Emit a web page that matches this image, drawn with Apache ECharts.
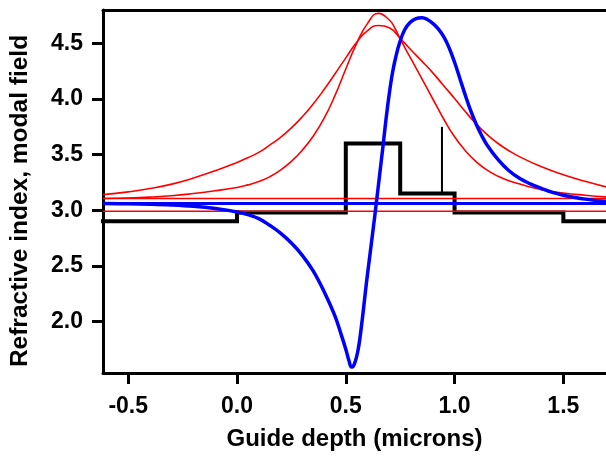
<!DOCTYPE html>
<html>
<head>
<meta charset="utf-8">
<script src="https://cdn.jsdelivr.net/npm/echarts@6/dist/echarts.min.js"></script>
<style>
html,body{margin:0;padding:0;background:#fff;}
#chart{width:606px;height:456px;}
</style>
</head>
<body>
<div id="chart"></div>
<script>
// ---- data ----
var xTicks = [-0.5, 0.0, 0.5, 1.0, 1.5];
var yTicks = [2.0, 2.5, 3.0, 3.5, 4.0, 4.5];
var xRange = [-0.616, 1.696];
var yRange = [1.537, 4.80];

// refractive index profile (step starts)
var profileX = [-0.616, 0.0, 0.5, 0.75, 1.0, 1.5, 1.696];
var profileN = [2.90, 2.98, 3.60, 3.15, 2.98, 2.90, 2.90];

// thin marker
var markerX = [0.942, 0.942];
var markerY = [3.15, 3.75];

// horizontal levels
var redLevels = [3.105, 2.99];
var blueLevel = 3.06;

// broad red curve
var broadX = [-0.616, -0.5, -0.4, -0.3, -0.2, -0.1, 0.0, 0.05, 0.1, 0.15, 0.2, 0.25, 0.3, 0.35, 0.4, 0.45, 0.5, 0.55, 0.6, 0.65, 0.70, 0.75, 0.80, 0.85, 0.90, 0.95, 1.00, 1.05, 1.10, 1.15, 1.20, 1.25, 1.30, 1.40, 1.50, 1.60, 1.696];
var broadY = [3.14, 3.165, 3.195, 3.235, 3.29, 3.355, 3.43, 3.472, 3.52, 3.585, 3.655, 3.74, 3.84, 3.955, 4.085, 4.225, 4.37, 4.51, 4.615, 4.66, 4.64, 4.545, 4.44, 4.34, 4.235, 4.12, 4.005, 3.885, 3.775, 3.68, 3.60, 3.535, 3.48, 3.39, 3.32, 3.26, 3.21];

// narrow red curve
var narrowX = [-0.616, -0.5, -0.4, -0.3, -0.2, -0.1, 0.0, 0.05, 0.1, 0.15, 0.2, 0.25, 0.3, 0.35, 0.4, 0.45, 0.5, 0.55, 0.6, 0.65, 0.70, 0.725, 0.75, 0.80, 0.85, 0.90, 0.95, 1.00, 1.05, 1.10, 1.15, 1.20, 1.25, 1.30, 1.40, 1.50, 1.60, 1.696];
var narrowY = [3.105, 3.11, 3.118, 3.13, 3.15, 3.175, 3.205, 3.228, 3.258, 3.30, 3.36, 3.44, 3.54, 3.665, 3.825, 4.03, 4.27, 4.50, 4.68, 4.77, 4.71, 4.64, 4.54, 4.36, 4.18, 4.00, 3.82, 3.66, 3.535, 3.435, 3.36, 3.305, 3.265, 3.235, 3.185, 3.155, 3.135, 3.12];

// blue modal field curve
var fieldX = [-0.616, -0.5, -0.4, -0.3, -0.2, -0.1, 0.0, 0.05, 0.1, 0.15, 0.2, 0.25, 0.3, 0.35, 0.4, 0.45, 0.48, 0.5, 0.515, 0.526, 0.535, 0.545, 0.555, 0.564, 0.58, 0.595, 0.61, 0.625, 0.64, 0.655, 0.67, 0.685, 0.70, 0.715, 0.73, 0.748, 0.77, 0.794, 0.82, 0.85, 0.875, 0.9, 0.925, 0.95, 0.975, 1.0, 1.025, 1.05, 1.075, 1.1, 1.125, 1.15, 1.2, 1.25, 1.3, 1.35, 1.4, 1.45, 1.5, 1.6, 1.696];
var fieldY = [3.06, 3.058, 3.054, 3.047, 3.035, 3.015, 2.985, 2.96, 2.925, 2.865, 2.795, 2.705, 2.595, 2.455, 2.27, 2.05, 1.875, 1.75, 1.645, 1.59, 1.60, 1.65, 1.73, 1.835, 2.09, 2.35, 2.585, 2.82, 3.06, 3.31, 3.56, 3.82, 4.05, 4.24, 4.38, 4.51, 4.62, 4.685, 4.72, 4.73, 4.715, 4.68, 4.63, 4.56, 4.46, 4.33, 4.18, 4.03, 3.89, 3.77, 3.67, 3.585, 3.455, 3.355, 3.285, 3.235, 3.195, 3.16, 3.135, 3.10, 3.08];

function zip(xs, ys){ return xs.map(function(x,i){ return [x, ys[i]]; }); }
function level(v){ return [[xRange[0], v],[xRange[1], v]]; }

var FONT = "'Liberation Sans', Arial, Helvetica, sans-serif";
var chart = echarts.init(document.getElementById('chart'), null, {renderer:'canvas'});
var lineBase = {type:'line', showSymbol:false, symbol:'none', animation:false, silent:true};

chart.setOption({
  animation:false,
  backgroundColor:'#fff',
  grid:{left:103, top:10, right:0, bottom:83},
  xAxis:[{
    type:'value', min:xRange[0], max:xRange[1], position:'bottom',
    splitLine:{show:false},
    axisLine:{show:true, onZero:false, lineStyle:{color:'#000', width:3}},
    axisTick:{show:true, inside:false, length:11, customValues:xTicks, lineStyle:{color:'#000', width:3}},
    axisLabel:{show:true, margin:22, customValues:xTicks, color:'#000', fontFamily:FONT, fontWeight:'bold', fontSize:23,
      formatter:function(v){ return v.toFixed(1); }},
    name:'Guide depth (microns)', nameLocation:'middle', nameGap:54,
    nameTextStyle:{color:'#000', fontFamily:FONT, fontWeight:'bold', fontSize:24}
  },{
    type:'value', min:xRange[0], max:xRange[1], position:'top',
    splitLine:{show:false},
    axisLine:{show:true, onZero:false, lineStyle:{color:'#000', width:3}},
    axisTick:{show:false}, axisLabel:{show:false}
  }],
  yAxis:{
    type:'value', min:yRange[0], max:yRange[1],
    splitLine:{show:false},
    axisLine:{show:true, onZero:false, lineStyle:{color:'#000', width:3}},
    axisTick:{show:true, inside:false, length:11, customValues:yTicks, lineStyle:{color:'#000', width:3}},
    axisLabel:{show:true, margin:20, customValues:yTicks, color:'#000', fontFamily:FONT, fontWeight:'bold', fontSize:23,
      formatter:function(v){ return v.toFixed(1); }},
    name:'Refractive index, modal field', nameLocation:'middle', nameGap:70, nameRotate:90,
    nameTextStyle:{color:'#000', fontFamily:FONT, fontWeight:'bold', fontSize:24.5, padding:[0,19,0,0]}
  },
  series:[
    Object.assign({}, lineBase, {name:'profile', step:'end', data:zip(profileX, profileN), z:2,
      lineStyle:{color:'#000', width:4, join:'miter', cap:'square'}}),
    Object.assign({}, lineBase, {name:'marker', data:zip(markerX, markerY), z:2,
      lineStyle:{color:'#000', width:2}}),
    Object.assign({}, lineBase, {name:'red level 1', data:level(redLevels[0]), z:3,
      lineStyle:{color:'#ff0000', width:1.5}}),
    Object.assign({}, lineBase, {name:'red level 2', data:level(redLevels[1]), z:3,
      lineStyle:{color:'#ff0000', width:1.5}}),
    Object.assign({}, lineBase, {name:'broad', data:zip(broadX, broadY), smooth:0.5, z:3,
      lineStyle:{color:'#ff0000', width:1.6}}),
    Object.assign({}, lineBase, {name:'narrow', data:zip(narrowX, narrowY), smooth:0.5, z:3,
      lineStyle:{color:'#ff0000', width:1.6}}),
    Object.assign({}, lineBase, {name:'blue level', data:level(blueLevel), z:4,
      lineStyle:{color:'#0000ff', width:3}}),
    Object.assign({}, lineBase, {name:'field', data:zip(fieldX, fieldY), smooth:0.4, z:4,
      lineStyle:{color:'#0000ff', width:3.5}})
  ]
});
</script>
</body>
</html>
